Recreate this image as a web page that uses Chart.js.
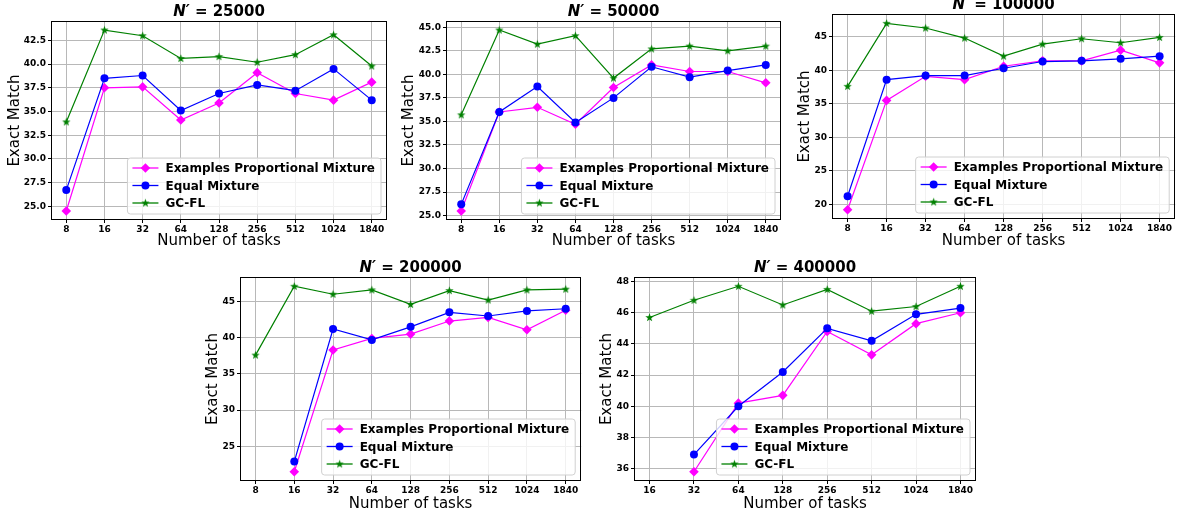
<!DOCTYPE html>
<html>
<head>
<meta charset="utf-8">
<script src="https://cdn.jsdelivr.net/npm/chart.js@4.4.0/dist/chart.umd.min.js"></script>
<style>
  body { margin: 0; background: #fff; width: 1180px; height: 515px; position: relative; overflow: hidden; }
  canvas { position: absolute; }
</style>
</head>
<body>
<canvas id="c1"></canvas>
<canvas id="c2"></canvas>
<canvas id="c3"></canvas>
<canvas id="c4"></canvas>
<canvas id="c5"></canvas>
<script>
// number of tasks on the x axis
var tasks9 = ['8', '16', '32', '64', '128', '256', '512', '1024', '1840'];
var tasks8 = ['16', '32', '64', '128', '256', '512', '1024', '1840'];

var seriesNames = ['Examples Proportional Mixture', 'Equal Mixture', 'GC-FL'];

// N' = 25000
var prop25k  = [24.5, 37.5, 37.6, 34.1, 35.9, 39.1, 36.9, 36.2, 38.1];
var equal25k = [26.7, 38.5, 38.8, 35.1, 36.9, 37.8, 37.2, 39.5, 36.2];
var gcfl25k  = [33.9, 43.6, 43.0, 40.6, 40.8, 40.2, 41.0, 43.1, 39.8];
var yTicks25k = ['25.0', '27.5', '30.0', '32.5', '35.0', '37.5', '40.0', '42.5'];

// N' = 50000
var prop50k  = [25.5, 36.0, 36.5, 34.7, 38.6, 41.0, 40.3, 40.3, 39.1];
var equal50k = [26.2, 36.0, 38.7, 34.9, 37.5, 40.8, 39.7, 40.4, 41.0];
var gcfl50k  = [35.7, 44.7, 43.2, 44.1, 39.6, 42.7, 43.0, 42.5, 43.0];
var yTicks50k = ['25.0', '27.5', '30.0', '32.5', '35.0', '37.5', '40.0', '42.5', '45.0'];

// N' = 100000
var prop100k  = [19.2, 35.5, 39.1, 38.6, 40.6, 41.4, 41.4, 43.0, 41.1];
var equal100k = [21.2, 38.6, 39.2, 39.2, 40.3, 41.3, 41.4, 41.7, 42.1];
var gcfl100k  = [37.6, 47.0, 46.3, 44.8, 42.1, 43.9, 44.7, 44.1, 44.9];
var yTicks100k = ['20', '25', '30', '35', '40', '45'];

// N' = 200000
var prop200k  = [null, 21.5, 38.3, 39.9, 40.5, 42.3, 42.8, 41.1, 43.8];
var equal200k = [null, 22.9, 41.2, 39.7, 41.5, 43.5, 43.0, 43.7, 44.0];
var gcfl200k  = [37.6, 47.1, 46.0, 46.6, 44.6, 46.5, 45.2, 46.6, 46.7];
var yTicks200k = ['25', '30', '35', '40', '45'];

// N' = 400000
var prop400k  = [null, 35.8, 40.2, 40.7, 44.8, 43.3, 45.3, 46.0];
var equal400k = [null, 36.9, 40.0, 42.2, 45.0, 44.2, 45.9, 46.3];
var gcfl400k  = [45.7, 46.8, 47.7, 46.5, 47.5, 46.1, 46.4, 47.7];
var yTicks400k = ['36', '38', '40', '42', '44', '46', '48'];

var FONT = 'DejaVu Sans';
var colors = ['#ff00ff', '#0000ff', '#008000'];

// layout of each panel: canvas box and plot area (page pixels)
var panels = [
    { id: 'c1', n: '25000', tasks: tasks9, series: [prop25k, equal25k, gcfl25k], yTicks: yTicks25k,
      canvas: [0, 0, 392, 250], area: [51, 21, 387, 220], yTitlePad: 6 },
    { id: 'c2', n: '50000', tasks: tasks9, series: [prop50k, equal50k, gcfl50k], yTicks: yTicks50k,
      canvas: [392, 0, 394, 250], area: [446, 21, 781, 220], yTitlePad: 8 },
    { id: 'c3', n: '100000', tasks: tasks9, series: [prop100k, equal100k, gcfl100k], yTicks: yTicks100k,
      canvas: [786, 0, 394, 250], area: [832, 14, 1176, 219], yTitlePad: 10 },
    { id: 'c4', n: '200000', tasks: tasks9, series: [prop200k, equal200k, gcfl200k], yTicks: yTicks200k,
      canvas: [190, 250, 396, 263], area: [240, 277, 584, 481], yTitlePad: 14 },
    { id: 'c5', n: '400000', tasks: tasks8, series: [prop400k, equal400k, gcfl400k], yTicks: yTicks400k,
      canvas: [590, 250, 392, 263], area: [634, 277, 976, 481], yTitlePad: 8 }
];

// filled star like matplotlib's '*' marker
function starImage(color) {
    var c = document.createElement('canvas');
    c.width = 11; c.height = 11;
    var g = c.getContext('2d');
    g.beginPath();
    for (var i = 0; i < 10; i++) {
        var r = i % 2 ? 1.8 : 4.4;
        var a = -Math.PI / 2 + i * Math.PI / 5;
        g.lineTo(5.5 + r * Math.cos(a), 5.7 + r * Math.sin(a));
    }
    g.closePath();
    g.fillStyle = color;
    g.fill();
    return c;
}
var star = starImage(colors[2]);

function drawMarker(ctx, k, x, y) {
    ctx.fillStyle = colors[k];
    if (k === 0) {
        ctx.beginPath();
        ctx.moveTo(x, y - 4.8); ctx.lineTo(x + 4.8, y); ctx.lineTo(x, y + 4.8); ctx.lineTo(x - 4.8, y);
        ctx.closePath(); ctx.fill();
    } else if (k === 1) {
        ctx.beginPath(); ctx.arc(x, y, 4, 0, Math.PI * 2); ctx.fill();
    } else {
        ctx.drawImage(star, x - 5.5, y - 5.5);
    }
}

// title, frame and legend drawn inside the axes like matplotlib does
var decor = {
    id: 'decor',
    afterDatasetsDraw: function (chart, args, opts) {
        var ctx = chart.ctx, a = chart.chartArea;
        ctx.save();

        // legend (lower right)
        ctx.font = 'bold 12px "' + FONT + '"';
        var tw = 0;
        seriesNames.forEach(function (s) { tw = Math.max(tw, ctx.measureText(s).width); });
        var bw = 38 + tw + 6, bh = 56;
        var bx = a.right - 6 - bw, by = a.bottom - 6 - bh;
        ctx.beginPath();
        ctx.roundRect(bx, by, bw, bh, 3);
        ctx.fillStyle = 'rgba(255,255,255,0.8)';
        ctx.fill();
        ctx.strokeStyle = '#d0d0d0';
        ctx.lineWidth = 1;
        ctx.stroke();
        seriesNames.forEach(function (s, k) {
            var y = by + 10 + k * 17.5;
            ctx.strokeStyle = colors[k];
            ctx.lineWidth = 1.3;
            ctx.beginPath(); ctx.moveTo(bx + 5, y); ctx.lineTo(bx + 31, y); ctx.stroke();
            drawMarker(ctx, k, bx + 18, y);
            ctx.fillStyle = '#000';
            ctx.textBaseline = 'middle';
            ctx.textAlign = 'left';
            ctx.fillText(s, bx + 38, y + 1);
        });

        // frame
        ctx.strokeStyle = '#000';
        ctx.lineWidth = 1;
        ctx.strokeRect(Math.round(a.left) + 0.5, Math.round(a.top) + 0.5,
            Math.round(a.right - a.left) - 1, Math.round(a.bottom - a.top) - 1);

        // title  N' = ...
        var f1 = 'italic bold 15px "' + FONT + '"', f2 = 'bold 15px "' + FONT + '"';
        var p1 = 'N\u2032', p2 = ' = ' + opts.n;
        ctx.font = f1; var w1 = ctx.measureText(p1).width;
        ctx.font = f2; var w2 = ctx.measureText(p2).width;
        var x0 = (a.left + a.right) / 2 - (w1 + w2) / 2, ty = a.top - 9;
        ctx.fillStyle = '#000';
        ctx.textBaseline = 'middle';
        ctx.textAlign = 'left';
        ctx.font = f1; ctx.fillText(p1, x0, ty);
        ctx.font = f2; ctx.fillText(p2, x0 + w1, ty);
        ctx.restore();
    }
};

panels.forEach(function (p) {
    var cv = document.getElementById(p.id);
    cv.width = p.canvas[2]; cv.height = p.canvas[3];
    cv.style.left = p.canvas[0] + 'px'; cv.style.top = p.canvas[1] + 'px';
    cv.style.width = p.canvas[2] + 'px'; cv.style.height = p.canvas[3] + 'px';

    var yw = p.area[0] - p.canvas[0];
    var padTop = p.area[1] - p.canvas[1];
    var padRight = p.canvas[0] + p.canvas[2] - p.area[2];
    var xh = p.canvas[1] + p.canvas[3] - p.area[3];

    // matplotlib style 5% margins around the data
    var all = [].concat.apply([], p.series).filter(function (v) { return v !== null; });
    var lo = Math.min.apply(null, all), hi = Math.max.apply(null, all);
    var m = (hi - lo) * 0.05;
    var nx = p.tasks.length - 1;

    var datasets = p.series.map(function (data, k) {
        return {
            label: seriesNames[k],
            data: data,
            borderColor: colors[k],
            backgroundColor: colors[k],
            borderWidth: 1.2,
            pointStyle: k === 0 ? 'rectRot' : (k === 1 ? 'circle' : star),
            pointRadius: k === 0 ? 4.8 : 4,
            pointBorderWidth: 0,
            order: 3 - k
        };
    });

    var grid = { color: '#b8b8b8', lineWidth: 1, drawTicks: true, tickLength: 3, tickColor: '#000' };

    new Chart(cv, {
        type: 'line',
        data: { labels: p.tasks.map(function (t, i) { return i; }), datasets: datasets },
        options: {
            responsive: false,
            animation: false,
            events: [],
            layout: { padding: { top: padTop, right: padRight, left: 0, bottom: 0 } },
            scales: {
                x: {
                    type: 'linear',
                    min: -0.05 * nx,
                    max: nx * 1.05,
                    afterBuildTicks: function (s) { s.ticks = p.tasks.map(function (t, i) { return { value: i }; }); },
                    afterFit: function (s) { s.height = xh; },
                    ticks: {
                        autoSkip: false, maxRotation: 0, padding: 1, color: '#000',
                        font: { family: FONT, size: 9, weight: 'bold' },
                        callback: function (v) { return p.tasks[v]; }
                    },
                    grid: grid,
                    border: { display: false },
                    title: { display: true, text: 'Number of tasks', color: '#000',
                             font: { family: FONT, size: 15 }, padding: { top: 0, bottom: 0 } }
                },
                y: {
                    min: lo - m,
                    max: hi + m,
                    afterBuildTicks: function (s) { s.ticks = p.yTicks.map(function (t) { return { value: parseFloat(t) }; }); },
                    afterFit: function (s) { s.width = yw; },
                    ticks: {
                        padding: 2, color: '#000',
                        font: { family: FONT, size: 9, weight: 'bold' },
                        callback: function (v, i) { return p.yTicks[i]; }
                    },
                    grid: grid,
                    border: { display: false },
                    title: { display: true, text: 'Exact Match', color: '#000',
                             font: { family: FONT, size: 15 }, padding: { top: p.yTitlePad, bottom: 0 } }
                }
            },
            plugins: {
                legend: { display: false },
                tooltip: { enabled: false },
                decor: { n: p.n }
            }
        },
        plugins: [decor]
    });
});
</script>
</body>
</html>
